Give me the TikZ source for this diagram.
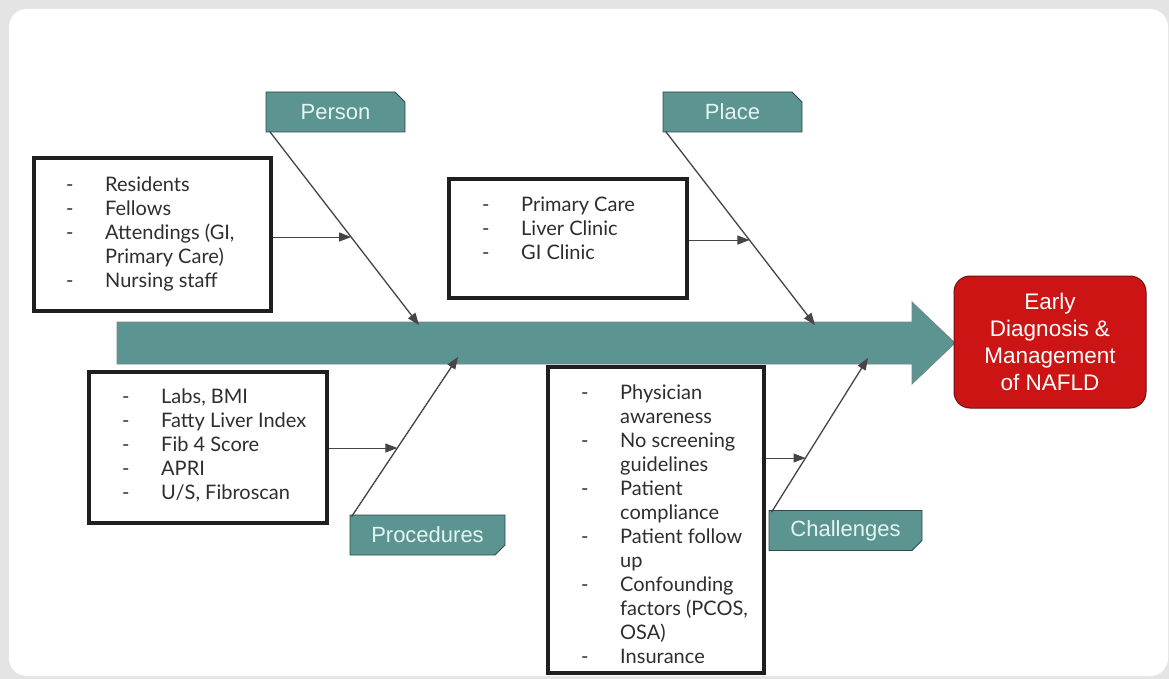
\documentclass[tikz,border=0pt]{standalone}
\usepackage{fontspec}
\setmainfont{Lato}
\newfontfamily\arialfont{Liberation Sans}
\usetikzlibrary{arrows.meta,shapes.misc,calc}
\definecolor{teal1}{HTML}{5B9490}
\definecolor{tealtext}{HTML}{E4F6F2}
\definecolor{tealline}{HTML}{2E4B49}
\definecolor{redbox}{HTML}{CC1414}
\definecolor{redline}{HTML}{6E1010}
\definecolor{txt}{HTML}{2E2E2E}
\definecolor{linec}{HTML}{454545}
\definecolor{bggray}{HTML}{E4E4E4}
\tikzset{
  catlabel/.style={chamfered rectangle, chamfered rectangle xsep=5pt, chamfered rectangle ysep=5pt,
    fill=teal1, draw=tealline, line width=0.8pt, text=tealtext, font=\arialfont\fontsize{22}{26}\selectfont,
    minimum height=40pt, inner sep=0pt},
  listbox/.style={draw=black!88, line width=3.2pt, fill=white, inner sep=0pt},
  listtext/.style={anchor=north west, inner sep=0pt, text=txt, font=\fontsize{20}{24}\selectfont},
  bone/.style={draw=linec, line width=1.3pt, -{Triangle[length=12pt,width=9pt]}},
}
\newcommand{\dl}{-}
\begin{document}
\begin{tikzpicture}[x=1pt,y=-1pt]
\useasboundingbox (0,0) rectangle (1169,679);
\fill[bggray] (0,0) rectangle (1169,679);
\fill[white, rounded corners=18pt] (9,9) rectangle (1168,676);

% main spine arrow
\fill[teal1, draw=gray!70!teal1, line width=0.8pt]
  (117,322) -- (912,322) -- (912,302) -- (955,343) -- (912,384) -- (912,364) -- (117,364) -- cycle;

% outcome
\node[draw=redline, line width=1pt, fill=redbox, rounded corners=16pt, minimum width=192pt, minimum height=132pt,
  text=white, align=center, font=\arialfont\fontsize{22.5}{27}\selectfont, inner sep=0pt] (out) at (1050,342)
  {Early\\Diagnosis \&\\Management\\of NAFLD};

% category labels
\node[catlabel, chamfered rectangle corners=north east, minimum width=139pt] (person) at (335.5,112) {Person};
\node[catlabel, chamfered rectangle corners=north east, minimum width=139pt] (place) at (732.5,112) {Place};
\node[catlabel, chamfered rectangle corners=south east, minimum width=155pt] (proc) at (427.5,535) {Procedures};
\node[catlabel, chamfered rectangle corners=south east, minimum width=153pt] (chal) at (845.5,530.5) {Challenges};

% endpoints on spine
\coordinate (pe) at (419,325);
\coordinate (ple) at (815,325);
\coordinate (pre) at (458,357);
\coordinate (che) at (868,358);

% boxes
\node[listbox, minimum width=237pt, minimum height=153pt] (pbox) at (152.5,234.5) {};
\node[listbox, minimum width=238pt, minimum height=119pt] (plbox) at (568,238.5) {};
\node[listbox, minimum width=238pt, minimum height=151pt] (prbox) at (208,447.5) {};
\node[listbox, minimum width=216pt, minimum height=306pt] (chbox) at (656,520) {};

\node[listtext] (ptext) at (66,174) {\begin{tabular}{@{}p{39pt}@{}l@{}}
\dl & Residents\\ \dl & Fellows\\ \dl & Attendings (GI,\\ & Primary Care)\\ \dl & Nursing staff\end{tabular}};
\node[listtext] (pltext) at (482,194) {\begin{tabular}{@{}p{39pt}@{}l@{}}
\dl & Primary Care\\ \dl & Liver Clinic\\ \dl & GI Clinic\end{tabular}};
\node[listtext] (prtext) at (122,386) {\begin{tabular}{@{}p{39pt}@{}l@{}}
\dl & Labs, BMI\\ \dl & Fatty Liver Index\\ \dl & Fib 4 Score\\ \dl & APRI\\ \dl & U/S, Fibroscan\end{tabular}};
\node[listtext] (chtext) at (581,382) {\begin{tabular}{@{}p{39pt}@{}l@{}}
\dl & Physician\\ & awareness\\ \dl & No screening\\ & guidelines\\ \dl & Patient\\ & compliance\\
\dl & Patient follow\\ & up\\ \dl & Confounding\\ & factors (PCOS,\\ & OSA)\\ \dl & Insurance\end{tabular}};

% diagonal bones
\coordinate (ps) at ($(person.south west)+(4,-1)$);
\coordinate (pls) at ($(place.south west)+(3,-1)$);
\coordinate (prs) at ($(proc.north west)+(2,2)$);
\coordinate (chs) at ($(chal.north west)+(3,2)$);
\draw[bone] (ps) -- (pe);
\draw[bone] (pls) -- (ple);
\draw[bone] (prs) -- (pre);
\draw[bone] (chs) -- (che);

% horizontal feeders
\coordinate (pm) at (intersection of ps--pe and {0,237}--{1000,237});
\coordinate (plm) at (intersection of pls--ple and {0,240}--{1000,240});
\coordinate (prm) at (intersection of prs--pre and {0,448}--{1000,448});
\coordinate (chm) at (intersection of chs--che and {0,458}--{1000,458});
\draw[bone, line width=1pt] (pbox.east |- pm) -- (pm);
\draw[bone, line width=1pt] (plbox.east |- plm) -- (plm);
\draw[bone, line width=1pt] (prbox.east |- prm) -- (prm);
\draw[bone, line width=1pt] (chbox.east |- chm) -- (chm);
\end{tikzpicture}
\end{document}
